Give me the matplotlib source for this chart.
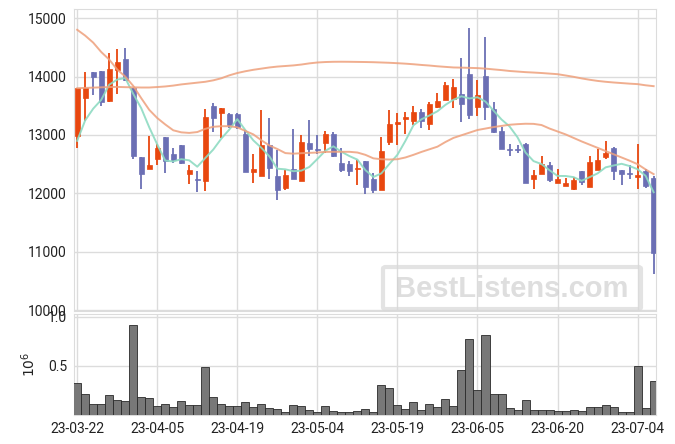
import matplotlib
matplotlib.use('Agg')
import matplotlib.pyplot as plt
from matplotlib.patches import FancyBboxPatch

dates = ['23-03-22', '23-03-23', '23-03-24', '23-03-27', '23-03-28', '23-03-29', '23-03-30', '23-03-31',
         '23-04-03', '23-04-04', '23-04-05', '23-04-06', '23-04-07', '23-04-10', '23-04-11', '23-04-12',
         '23-04-13', '23-04-14', '23-04-17', '23-04-18', '23-04-19', '23-04-20', '23-04-21', '23-04-24',
         '23-04-25', '23-04-26', '23-04-27', '23-04-28', '23-05-02', '23-05-03', '23-05-04', '23-05-08',
         '23-05-09', '23-05-10', '23-05-11', '23-05-12', '23-05-15', '23-05-16', '23-05-17', '23-05-18',
         '23-05-19', '23-05-22', '23-05-23', '23-05-24', '23-05-25', '23-05-26', '23-05-30', '23-05-31',
         '23-06-01', '23-06-02', '23-06-05', '23-06-07', '23-06-08', '23-06-09', '23-06-12', '23-06-13',
         '23-06-14', '23-06-15', '23-06-16', '23-06-19', '23-06-20', '23-06-21', '23-06-22', '23-06-23',
         '23-06-26', '23-06-27', '23-06-28', '23-06-29', '23-06-30', '23-07-03', '23-07-04', '23-07-05',
         '23-07-06']

opens = [12985, 13636, 14069, 14092, 13579, 14109, 14298, 13807, 12631, 12426,
         12586, 12962, 12672, 12825, 12335, 12245, 12220, 13493, 13380, 13357,
         13357, 13014, 12369, 12295, 12826, 12295, 12101, 12426, 12215, 12860,
         12760, 12866, 13014, 12512, 12501, 12415, 12552, 12244, 12055, 12882,
         13191, 13270, 13236, 13385, 13191, 13476, 13601, 13613, 13693, 14035,
         13482, 14001, 13436, 13065, 12765, 12760, 12854, 12249, 12340, 12494,
         12180, 12129, 12078, 12380, 12112, 12409, 12626, 12785, 12397, 12350,
         12283, 12380, 12260]
highs = [13810, 14080, 14070, 14095, 14395, 14463, 14480, 13810, 12631, 12980,
         12854, 12962, 12780, 12830, 12483, 12392, 13442, 13539, 13470, 13380,
         13380, 13083, 12672, 13425, 13283, 12740, 12398, 13094, 12991, 13254,
         12997, 13066, 13050, 12769, 12558, 12569, 12555, 12341, 12968, 13425,
         13373, 13396, 13499, 13442, 13567, 13710, 13898, 13950, 14309, 14834,
         13938, 14680, 13567, 13139, 12854, 12825, 12860, 12397, 12643, 12540,
         12426, 12272, 12283, 12385, 12637, 12768, 12900, 12790, 12400, 12483,
         12837, 12426, 12295]
lows = [12770, 13240, 13690, 13500, 13567, 13704, 13920, 12597, 12083, 12414,
        12494, 12357, 12523, 12506, 12169, 12026, 12049, 13054, 12940, 13111,
        13105, 12365, 12170, 12290, 12255, 11884, 12056, 12250, 12210, 12638,
        12672, 12695, 12615, 12369, 12295, 12141, 11987, 12010, 12050, 12825,
        12825, 13025, 13179, 13111, 13082, 13470, 13590, 13464, 13225, 13270,
        13328, 13248, 13042, 12760, 12637, 12694, 12175, 12083, 12335, 12198,
        12175, 12125, 12066, 12152, 12110, 12397, 12597, 12237, 12141, 12255,
        12072, 12101, 10628]
closes = [13807, 13807, 13995, 13567, 14126, 14246, 13938, 12643, 12335, 12494,
          12780, 12557, 12569, 12529, 12397, 12232, 13305, 13293, 13460, 13168,
          13128, 12369, 12415, 12826, 12438, 12067, 12312, 12255, 12877, 12752,
          12750, 13014, 12638, 12409, 12386, 12443, 12112, 12055, 12723, 13196,
          13219, 13305, 13385, 13236, 13527, 13579, 13853, 13818, 13533, 13339,
          13681, 13482, 13054, 12768, 12750, 12745, 12180, 12323, 12511, 12226,
          12255, 12175, 12226, 12198, 12534, 12580, 12694, 12386, 12340, 12340,
          12312, 12129, 10982]
volumes = [0.33, 0.218, 0.117, 0.117, 0.208, 0.151, 0.141, 0.922, 0.188, 0.178,
           0.087, 0.117, 0.077, 0.138, 0.098, 0.098, 0.49, 0.188, 0.108, 0.087,
           0.087, 0.128, 0.077, 0.117, 0.067, 0.057, 0.027, 0.098, 0.087, 0.047,
           0.027, 0.087, 0.037, 0.027, 0.027, 0.037, 0.057, 0.027, 0.309, 0.279,
           0.098, 0.057, 0.128, 0.047, 0.117, 0.077, 0.168, 0.087, 0.463, 0.772,
           0.259, 0.812, 0.218, 0.218, 0.067, 0.047, 0.158, 0.047, 0.047, 0.047,
           0.037, 0.037, 0.047, 0.037, 0.077, 0.077, 0.098, 0.077, 0.027, 0.027,
           0.5, 0.067, 0.342]
ma5 = [12900, 13250, 13450, 13600, 13860, 13948, 13974, 13704, 13458, 13131,
       12838, 12562, 12547, 12586, 12566, 12457, 12606, 12751, 12937, 13092,
       13271, 13084, 12908, 12781, 12635, 12423, 12412, 12380, 12390, 12453,
       12589, 12730, 12806, 12713, 12639, 12578, 12398, 12281, 12344, 12506,
       12661, 12900, 13166, 13268, 13334, 13406, 13516, 13603, 13662, 13624,
       13645, 13571, 13418, 13265, 13147, 12960, 12699, 12553, 12502, 12397,
       12299, 12298, 12279, 12216, 12278, 12343, 12446, 12478, 12507, 12468,
       12414, 12301, 12021]
ma20 = [14800, 14700, 14580, 14420, 14290, 14120, 14000, 13840, 13630, 13430,
        13290, 13180, 13080, 13045, 13035, 13050, 13105, 13140, 13150, 13150,
        13130, 13070, 13010, 12910, 12820, 12760, 12690, 12680, 12688, 12694,
        12700, 12710, 12712, 12712, 12712, 12700, 12660, 12600, 12585, 12580,
        12585, 12615, 12660, 12710, 12755, 12800, 12880, 12950, 12995, 13040,
        13085, 13110, 13135, 13155, 13175, 13185, 13192, 13190, 13170, 13110,
        13060, 13010, 12950, 12890, 12835, 12780, 12725, 12670, 12615, 12560,
        12500, 12410, 12330]
ma_long = [13800, 13805, 13810, 13815, 13820, 13822, 13818, 13815, 13812, 13812,
           13820, 13830, 13845, 13865, 13880, 13895, 13910, 13935, 13970, 14020,
           14060, 14090, 14115, 14135, 14155, 14170, 14180, 14190, 14205, 14225,
           14240, 14248, 14252, 14253, 14252, 14250, 14248, 14245, 14240, 14235,
           14228, 14220, 14210, 14198, 14188, 14175, 14165, 14155, 14152, 14148,
           14144, 14135, 14122, 14110, 14095, 14085, 14075, 14068, 14060, 14050,
           14040, 14018, 13995, 13968, 13945, 13925, 13910, 13898, 13888, 13878,
           13870, 13850, 13835]
price_ticks = [10000, 11000, 12000, 13000, 14000, 15000]
vol_ticks = [0.5, 1.0]

UP = '#e8470f'
DOWN = '#6b6fb4'
GRID = '#dcdcdc'

plt.rcParams['font.family'] = ['Roboto', 'DejaVu Sans']

fig = plt.figure(figsize=(6.75, 4.44), dpi=100)
ax = fig.add_axes([0.1096, 0.2995, 0.8623, 0.6802])
axv = fig.add_axes([0.1096, 0.0653, 0.8623, 0.2275], sharex=ax)

x = list(range(len(dates)))
for i in x:
    o, h, l, c = opens[i], highs[i], lows[i], closes[i]
    col = UP if c >= o else DOWN
    ax.vlines(i, l, h, color=col, lw=1.3, zorder=3)
    body = max(abs(c - o), 10)
    ax.bar(i, body, bottom=min(o, c), width=0.62, color=col, edgecolor=col,
           lw=0.5, zorder=3)

ax.plot(x, ma5, color='#8edbc2', lw=1.4, alpha=0.9, zorder=4)
ax.plot(x, ma20, color='#eea07c', lw=1.4, alpha=0.85, zorder=4)
ax.plot(x, ma_long, color='#eea07c', lw=1.4, alpha=0.85, zorder=4)

axv.bar(x, volumes, width=1.0, color='#787878', edgecolor='#2a2a2a', lw=0.6, zorder=3)

tick_pos = x[::10]
tick_lab = dates[::10]
for a in (ax, axv):
    a.set_xticks(tick_pos)
    a.grid(True, color=GRID, lw=1, zorder=0)
    a.tick_params(length=0, labelsize=10, colors='#222222', pad=5)
    for s in a.spines.values():
        s.set_color(GRID)
    a.set_axisbelow(True)

ax.set_xlim(-0.4, 72.3)
ax.set_ylim(9988, 15155)
ax.set_yticks(price_ticks)
ax.tick_params(labelbottom=False)
axv.set_xticklabels(tick_lab)
axv.set_ylim(0, 1.03)
axv.set_yticks(vol_ticks)
axv.set_yticklabels(['0.5', '1.0'])
axv.set_ylabel(r'$10^{6}$', fontsize=10, color='#222222')
axv.yaxis.set_label_coords(-0.062, 0.5)

# watermark
box = FancyBboxPatch((0.5674, 0.304), 0.3822, 0.0946, boxstyle='round,pad=0,rounding_size=0.004',
                     transform=fig.transFigure, fc='none', ec='#d8d8d8', lw=3, alpha=0.7, zorder=10)
fig.patches.append(box)
fig.text(0.7585, 0.3480, 'BestListens.com', ha='center', va='center', fontsize=21,
         fontweight='bold', family=['Liberation Sans', 'DejaVu Sans'], color='#d0d0d0', alpha=0.7, zorder=10)

fig.savefig('out.png', dpi=100)
